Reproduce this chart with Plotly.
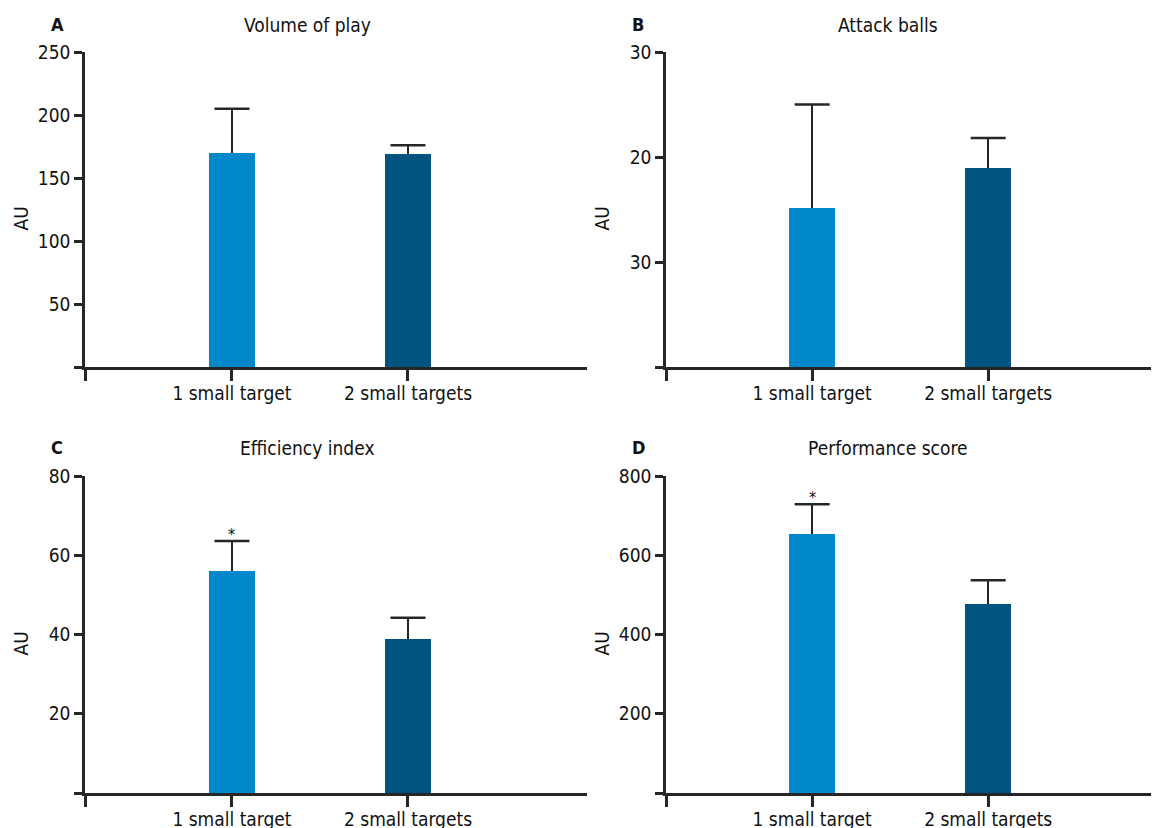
import plotly.graph_objects as go

# ---- data ----
categories = ["1 small target", "2 small targets"]
panel_letters = ["A", "B", "C", "D"]
panel_titles = ["Volume of play", "Attack balls", "Efficiency index", "Performance score"]

volume_mean = [170, 169]
volume_err = [35, 7]
attack_mean = [15.1, 19.0]
attack_err = [9.9, 2.8]
efficiency_mean = [56.0, 38.9]
efficiency_err = [7.6, 5.3]
performance_mean = [654, 477]
performance_err = [75, 60]

volume_ticks = [0, 50, 100, 150, 200, 250]
volume_ticklabels = ["", "50", "100", "150", "200", "250"]
attack_ticks = [0, 10, 20, 30]
attack_ticklabels = ["", "30", "20", "30"]
efficiency_ticks = [0, 20, 40, 60, 80]
efficiency_ticklabels = ["", "20", "40", "60", "80"]
performance_ticks = [0, 200, 400, 600, 800]
performance_ticklabels = ["", "200", "400", "600", "800"]

stars_efficiency = ["*", ""]
stars_performance = ["*", ""]

# ---- styling ----
W, H = 1159, 828
OFF = 8  # default page body margin
FW, FH = W - OFF, H - OFF
FONT = "Liberation Sans Narrow, DejaVu Sans Condensed, Roboto Condensed, Arial Narrow, sans-serif"
BAR_COLORS = ["#0088CA", "#00547F"]
INK = "#262626"
AXW = 2.5


def px_x(v):
    return (v - OFF) / FW


def px_y(v):
    return 1 - (v - OFF) / FH


panels = [
    dict(mean=volume_mean, err=volume_err, ticks=volume_ticks, labels=volume_ticklabels,
         stars=None, xpx=(85, 587), ypx=(52, 367), xr=(-0.835, 2.017)),
    dict(mean=attack_mean, err=attack_err, ticks=attack_ticks, labels=attack_ticklabels,
         stars=None, xpx=(666, 1159), ypx=(52, 367), xr=(-0.83, 1.97)),
    dict(mean=efficiency_mean, err=efficiency_err, ticks=efficiency_ticks, labels=efficiency_ticklabels,
         stars=stars_efficiency, xpx=(85, 587), ypx=(476, 793), xr=(-0.835, 2.017)),
    dict(mean=performance_mean, err=performance_err, ticks=performance_ticks, labels=performance_ticklabels,
         stars=stars_performance, xpx=(666, 1159), ypx=(476, 793), xr=(-0.83, 1.97)),
]

fig = go.Figure()
xs = list(range(len(categories)))
annotations = []

for i, p in enumerate(panels):
    n = "" if i == 0 else str(i + 1)
    xa, ya = "x" + n, "y" + n
    tops = [m + e for m, e in zip(p["mean"], p["err"])]
    fig.add_trace(go.Bar(
        x=xs, y=p["mean"], width=0.26, xaxis=xa, yaxis=ya,
        marker=dict(color=BAR_COLORS, line=dict(width=0)),
        error_y=dict(type="data", symmetric=False, array=p["err"],
                     arrayminus=[0] * len(xs), width=0, thickness=AXW, color=INK),
        showlegend=False, hoverinfo="skip",
    ))
    # caps
    fig.add_trace(go.Scatter(
        x=xs, y=tops, mode="markers", xaxis=xa, yaxis=ya,
        marker=dict(symbol="line-ew", size=25, line=dict(width=AXW, color=INK)),
        showlegend=False, hoverinfo="skip",
    ))
    x0, x1 = p["xpx"]
    y0, y1 = p["ypx"]
    fig.layout["xaxis" + n] = dict(
        domain=[px_x(x0), min(1.0, px_x(x1))], range=list(p["xr"]), anchor=ya, automargin=False,
        tickvals=[p["xr"][0] + 0.001] + xs, ticktext=[""] + categories,
        ticks="outside", ticklen=11, tickwidth=AXW, tickcolor=INK, ticklabelstandoff=-4,
        showline=True, linewidth=AXW, linecolor=INK, showgrid=False, zeroline=False,
        tickfont=dict(family=FONT, size=19, color="#111"), fixedrange=True,
    )
    fig.layout["yaxis" + n] = dict(
        domain=[px_y(y1), px_y(y0)], range=[0, p["ticks"][-1]], anchor=xa, automargin=False,
        tickvals=p["ticks"], ticktext=p["labels"],
        ticks="outside", ticklen=8, tickwidth=AXW, tickcolor=INK,
        showline=True, linewidth=AXW, linecolor=INK, showgrid=False, zeroline=False,
        tickfont=dict(family=FONT, size=19, color="#111"), fixedrange=True,
    )
    # panel letter and title
    ty = 24 if i < 2 else 447
    annotations.append(dict(text="<b>" + panel_letters[i] + "</b>", xref="paper", yref="paper",
                            x=px_x(x0 - 28), y=px_y(ty),
                            showarrow=False, xanchor="center", yanchor="middle",
                            font=dict(family=FONT, size=18, color="#111")))
    annotations.append(dict(text=panel_titles[i], xref="paper", yref="paper",
                            x=px_x(x0 + 222), y=px_y(ty + 1),
                            showarrow=False, xanchor="center", yanchor="middle",
                            font=dict(family=FONT, size=19, color="#111")))
    annotations.append(dict(text="AU", xref="paper", yref="paper",
                            x=px_x(x0 - 65), y=px_y((y0 + y1) / 2 + 9),
                            showarrow=False, xanchor="center", yanchor="middle", textangle=-90,
                            font=dict(family=FONT, size=19, color="#111")))
    if p["stars"]:
        for xv, t, s in zip(xs, tops, p["stars"]):
            if s:
                annotations.append(dict(text=s, x=xv, y=t, xref=xa, yref=ya, showarrow=False,
                                        xanchor="center", yanchor="bottom", yshift=-5,
                                        font=dict(family=FONT, size=16, color="#111")))

fig.update_layout(
    width=FW, height=FH, margin=dict(l=0, r=0, t=0, b=0, autoexpand=False),
    paper_bgcolor="white", plot_bgcolor="white",
    annotations=annotations, bargap=0,
    font=dict(family=FONT, color="#111"),
)

fig.write_html("out.html")
